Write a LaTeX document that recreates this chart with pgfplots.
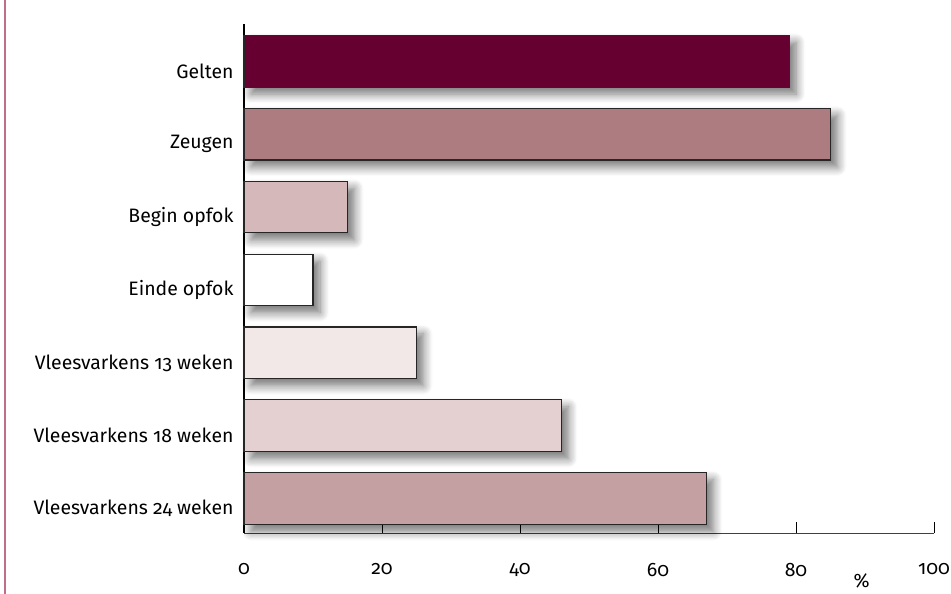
\documentclass[border=0pt]{standalone}
\usepackage{fontspec}
\setmainfont{Fira Sans}[Numbers=OldStyle]
\usepackage{pgfplots}
\pgfplotsset{compat=1.18}
\usetikzlibrary{shadows.blur}

\definecolor{c1}{RGB}{102,0,48}
\definecolor{c2}{RGB}{173,124,128}
\definecolor{c3}{RGB}{212,184,186}
\definecolor{c4}{RGB}{255,255,255}
\definecolor{c5}{RGB}{243,232,232}
\definecolor{c6}{RGB}{228,208,208}
\definecolor{c7}{RGB}{196,160,163}
\definecolor{sidebar}{RGB}{190,110,140}

\begin{document}
\begin{tikzpicture}[x=1bp,y=1bp]
\useasboundingbox (0,0) rectangle (951,594);
\draw[sidebar, line width=2bp] (5,0) -- (5,594);
\begin{axis}[
  at={(244bp,61bp)}, anchor=south west,
  scale only axis,
  width=690bp, height=509bp,
  xmin=0, xmax=100,
  ymin=-0.51, ymax=6.47,
  y dir=reverse,
  axis x line=bottom,
  axis y line=left,
  axis line style={-},
  x axis line style={draw=black!75, line width=0.9bp},
  y axis line style={line width=2.2bp},
  xtick={0,20,40,60,80,100},
  xticklabels={0,20,40,60,80,{\raisebox{7bp}{100}}},
  x tick style={black, line width=1bp},
  tick align=inside,
  major tick length=11bp,
  xticklabel style={yshift=-27bp},
  ytick={0,...,6},
  yticklabels={Gelten, Zeugen, Begin opfok, Einde opfok,
    Vleesvarkens 13 weken, Vleesvarkens 18 weken, Vleesvarkens 24 weken},
  y tick style={draw=none},
  yticklabel style={xshift=4bp, yshift=-10bp},
  tick label style={font=\fontsize{19.5}{22}\selectfont},
  xbar, bar width=0.71, bar shift=0pt,
  every axis plot/.append style={draw=black!85, line width=1.1bp,
    blur shadow={shadow xshift=7bp, shadow yshift=-7bp,
      shadow blur radius=9bp, shadow blur steps=8, shadow opacity=55}},
  clip=false,
]
\addplot[fill=c1] coordinates {(79,0)};
\addplot[fill=c2] coordinates {(85,1)};
\addplot[fill=c3] coordinates {(15,2)};
\addplot[fill=c4] coordinates {(10,3)};
\addplot[fill=c5] coordinates {(25,4)};
\addplot[fill=c6] coordinates {(46,5)};
\addplot[fill=c7] coordinates {(67,6)};
\node[font=\fontsize{19.5}{22}\selectfont] at (axis cs:89.5,6.47) [yshift=-48bp] {\%};
\end{axis}
\end{tikzpicture}
\end{document}
